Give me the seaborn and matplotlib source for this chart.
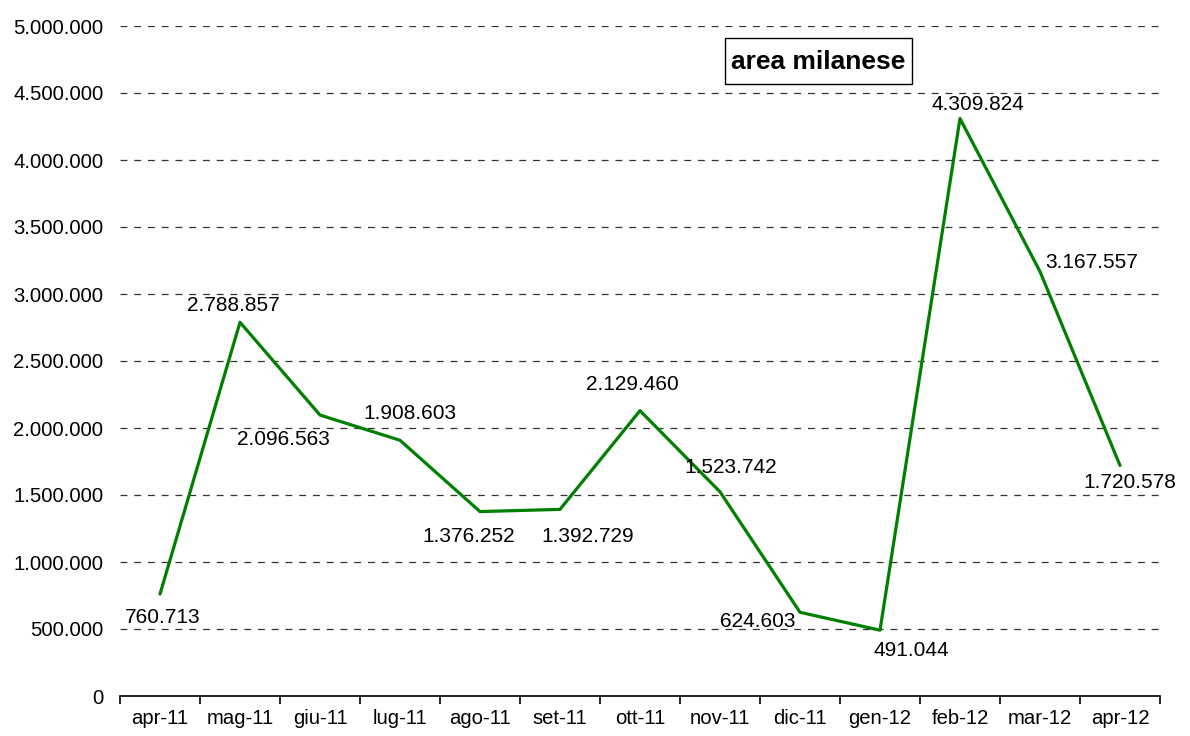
import matplotlib
matplotlib.use("Agg")
import matplotlib.pyplot as plt
import seaborn as sns
import pandas as pd
import numpy as np
from matplotlib.ticker import FixedLocator, FuncFormatter
from matplotlib.patches import Rectangle

months = ["apr-11", "mag-11", "giu-11", "lug-11", "ago-11", "set-11", "ott-11",
          "nov-11", "dic-11", "gen-12", "feb-12", "mar-12", "apr-12"]
values = [760713, 2788857, 2096563, 1908603, 1376252, 1392729, 2129460,
          1523742, 624603, 491044, 4309824, 3167557, 1720578]
# label offsets in pixels (dx, dy) relative to each point
label_offsets = [(3, -23), (-7, 17), (-37, -24), (10, 27), (-11, -25), (28, -27),
                 (-8, 26), (11, 24), (-42, -9), (31, -20), (18, 14), (52, 9), (10, -17)]
title_text = "area milanese"

sns.set_theme(style="white")
plt.rcParams['font.family'] = ['Liberation Sans', 'DejaVu Sans']

fig = plt.figure(figsize=(11.9, 7.36), dpi=100)
ax = fig.add_axes([120/1190, 40/736, 1040/1190, 670/736])

df = pd.DataFrame({"idx": np.arange(len(months)), "value": values, "month": months})
sns.lineplot(data=df, x="idx", y="value", ax=ax, color="#008000", linewidth=2.3)

ax.set_xlim(-0.5, len(months) - 0.5)
ax.set_ylim(0, 5000000)
ax.set_xlabel("")
ax.set_ylabel("")

# y ticks
yt = np.arange(0, 5000001, 500000)
ax.set_yticks(yt)
ax.yaxis.set_major_formatter(FuncFormatter(lambda v, p: f"{int(v):,}".replace(",", ".")))
ax.tick_params(axis="y", length=0, labelsize=14.6, pad=12, colors="black")
for y in yt[1:]:
    ax.axhline(y, color="#333333", linewidth=0.9, linestyle=(0, (5.5, 5.5)), zorder=0)

# x ticks: boundaries as major (marks), centers as minor (labels)
ax.xaxis.set_major_locator(FixedLocator(np.arange(-0.5, len(months), 1.0)))
ax.xaxis.set_major_formatter(FuncFormatter(lambda v, p: ""))
ax.xaxis.set_minor_locator(FixedLocator(np.arange(len(months))))
ax.set_xticklabels(months, minor=True)
ax.tick_params(axis="x", which="major", length=6, width=1.2, direction="out",
               color="black", bottom=True)
ax.tick_params(axis="x", which="minor", length=0, labelsize=14.6, pad=9,
               colors="black", bottom=True)

for s in ["top", "right", "left"]:
    ax.spines[s].set_visible(False)
ax.spines["bottom"].set_color("black")
ax.spines["bottom"].set_linewidth(1.2)

for i, (v, (dx, dy)) in enumerate(zip(values, label_offsets)):
    ax.annotate(f"{v:,}".replace(",", "."), (i, v), xytext=(dx, dy),
                textcoords="offset pixels", ha="center", va="center",
                fontsize=15, color="black")

fig.patches.append(Rectangle((725/1190, 1 - 84/736), 187/1190, 46/736,
                             transform=fig.transFigure, facecolor="white",
                             edgecolor="black", linewidth=1, zorder=5))
fig.text(818.5/1190, 1 - 62/736, title_text, ha="center", va="center",
         fontsize=19, fontweight="bold", color="black", zorder=6)

fig.savefig("out.png", dpi=100, facecolor="white")
